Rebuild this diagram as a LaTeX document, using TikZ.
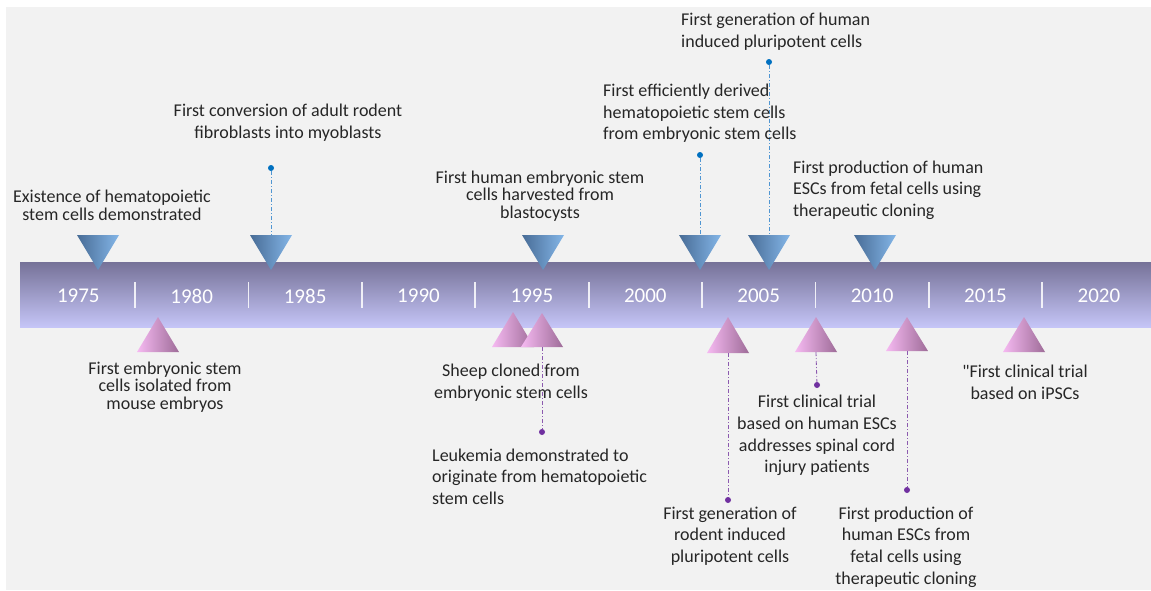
\documentclass[tikz,border=0pt]{standalone}
\usepackage{fontspec}
\setmainfont{Carlito}
\newfontfamily\qfont{Carlito}[Ligatures=TeXOff]
\definecolor{bgray}{RGB}{242,242,242}
\definecolor{bartop}{RGB}{118,114,152}
\definecolor{barbot}{RGB}{197,197,247}
\definecolor{bluedark}{RGB}{72,108,150}
\definecolor{bluelight}{RGB}{132,182,232}
\definecolor{pinklight}{RGB}{246,186,242}
\definecolor{pinkdark}{RGB}{158,108,152}
\definecolor{dotblue}{RGB}{0,112,192}
\definecolor{lineblue}{RGB}{80,150,210}
\definecolor{dotpurple}{RGB}{112,48,160}
\definecolor{linepurple}{RGB}{140,90,175}
\definecolor{txt}{RGB}{38,38,38}
\newcommand\dtri[2]{\shade[left color=bluedark,right color=bluelight] (#1-21,235) -- (#1+21,235) -- (#1,270) -- cycle; \coordinate (#2) at (#1,235);}
\newcommand\utri[4]{\shade[left color=pinklight,right color=pinkdark] (#1-21,#3) -- (#1+21,#3) -- (#1,#2) -- cycle; \coordinate (#4) at (#1,#3);}
\newcommand\normfont{\fontsize{18}{21.6}\selectfont}
\newcommand\tightfont{\fontsize{18}{17.5}\selectfont\lineskiplimit=-50pt\relax\lineskip=0pt\relax}
\begin{document}
\begin{tikzpicture}[x=1pt,y=-1pt,
  lbl/.style={font=\normfont, text=txt, align=center, inner sep=0pt},
  tight/.style={font=\tightfont},
  leftal/.style={align=left, anchor=west},
  yr/.style={font=\fontsize{21}{25}\selectfont, text=white, inner sep=0pt},
  sep/.style={white, line width=1.8pt, opacity=0.85},
  bdot/.style={circle, fill=dotblue, inner sep=0pt, minimum size=6pt},
  pdot/.style={circle, fill=dotpurple, inner sep=0pt, minimum size=6pt},
  bconn/.style={draw=lineblue, line width=0.8pt, dash pattern=on 4pt off 2pt on 1pt off 2pt},
  pconn/.style={draw=linepurple, line width=0.8pt, dash pattern=on 4pt off 2pt on 1pt off 2pt}]
\useasboundingbox (0,0) rectangle (1151,590);
\fill[white] (0,0) rectangle (1151,590);
\fill[bgray] (6,7) rectangle (1151,590);
% bar
\shade[top color=bartop, bottom color=barbot] (20,262) rectangle (1151,327);
\foreach \i in {0,...,8} {
  \draw[sep] ({135+113.4*\i},282) -- ({135+113.4*\i},308);
}
\foreach \yy [count=\k from 0] in {1975,1980,1985,1990,1995,2000,2005,2010,2015,2020} {
  \node[yr] (y\yy) at ({78.3+113.4*\k},296) {\yy};
}
% down triangles
\dtri{98}{dA}
\dtri{271}{dB}
\dtri{543}{dC}
\dtri{700}{dD}
\dtri{769}{dE}
\dtri{875}{dF}
% up triangles
\utri{158}{317}{352}{uA}
\utri{513}{312}{347}{uB}
\utri{542}{313}{347}{uC}
\utri{728}{317}{353}{uD}
\utri{816}{317}{352}{uE}
\utri{907}{317}{351}{uF}
\utri{1024}{317}{352}{uG}
% dots
\node[bdot] (bB) at (271,168) {};
\node[bdot] (bD) at (700,155) {};
\node[bdot] (bE) at (769,62) {};
\node[pdot] (pC) at (542,432) {};
\node[pdot] (pD) at (728,500) {};
\node[pdot] (pE) at (817,385) {};
\node[pdot] (pF) at (907,490) {};
% connectors
\draw[bconn] (bB) -- (dB);
\draw[bconn] (bD) -- (dD);
\draw[bconn] (bE) -- (dE);
\draw[pconn] (uC) -- (pC);
\draw[pconn] (uD) -- (pD);
\draw[pconn] (uE) -- (pE);
\draw[pconn] (uF) -- (pF);
% labels above
\node[lbl,tight] (tA) at (112,205.5) {Existence of hematopoietic\\stem cells demonstrated};
\node[lbl] (tB) at (288,122.5) {First conversion of adult rodent\\fibroblasts into myoblasts};
\node[lbl,tight] (tC) at (540,196) {First human embryonic stem\\cells harvested from\\blastocysts};
\node[lbl,leftal] (tD) at (603,113.5) {First efficiently derived\\hematopoietic stem cells\\from embryonic stem cells};
\node[lbl,leftal] (tE) at (681,31.5) {First generation of human\\induced pluripotent cells};
\node[lbl,leftal] (tF) at (793,190) {First production of human\\ESCs from fetal cells using\\therapeutic cloning};
% labels below
\node[lbl,tight] (tG) at (165,387) {First embryonic stem\\cells isolated from\\mouse embryos};
\node[lbl] (tH) at (511,382.5) {Sheep cloned from\\embryonic stem cells};
\node[lbl,leftal] (tI) at (432,476.5) {Leukemia demonstrated to\\originate from hematopoietic\\stem cells};
\node[lbl] (tJ) at (730,536) {First generation of\\rodent induced\\pluripotent cells};
\node[lbl] (tK) at (817,435.5) {First clinical trial\\based on human ESCs\\addresses spinal cord\\injury patients};
\node[lbl] (tL) at (906,547) {First production of\\human ESCs from\\fetal cells using\\therapeutic cloning};
\node[lbl] (tM) at (1025,382.5) {{\qfont"}First clinical trial\\based on iPSCs};
\end{tikzpicture}
\end{document}
